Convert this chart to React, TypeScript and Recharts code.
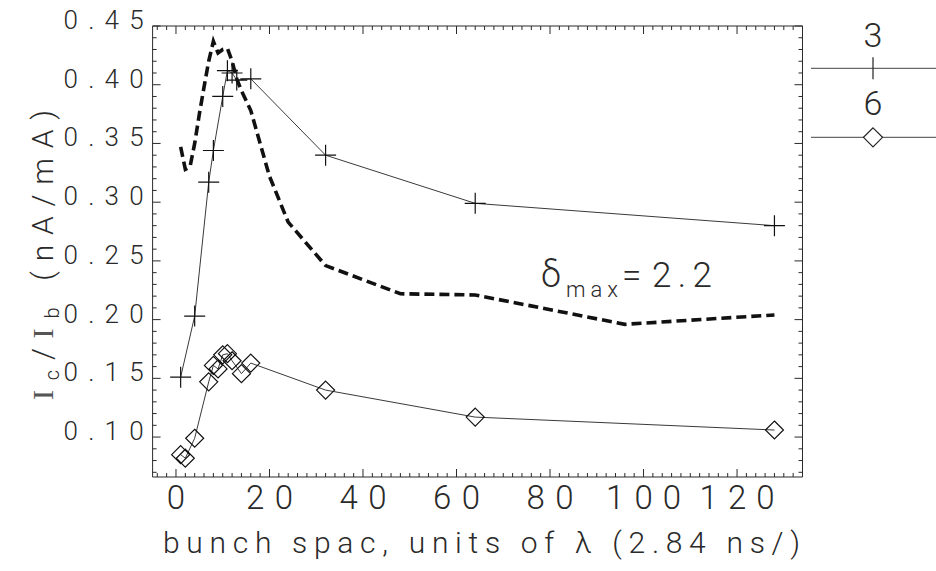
import React from 'react';
import { LineChart, Line, XAxis, YAxis, Legend, Customized } from 'recharts';

// Measured response vs. bunch spacing (units of lambda)
const spacing3 = [1, 4, 7, 8, 10, 11, 12, 13, 16, 32, 64, 128];
const ratio3 = [0.151, 0.203, 0.317, 0.344, 0.39, 0.412, 0.41, 0.404, 0.405, 0.34, 0.299, 0.28];

const spacing6 = [1, 2, 4, 7, 8, 9, 10, 11, 12, 14, 16, 32, 64, 128];
const ratio6 = [0.085, 0.082, 0.099, 0.147, 0.161, 0.158, 0.17, 0.171, 0.165, 0.154, 0.163, 0.14, 0.117, 0.106];

// Model curve for delta_max = 2.2
const spacingModel = [1, 2, 3, 4, 5, 6, 7, 8, 9, 10, 11, 12, 13, 14, 16, 20, 24, 32, 48, 64, 96, 128];
const ratioModel = [0.347, 0.328, 0.33, 0.35, 0.375, 0.398, 0.42, 0.437, 0.427, 0.43, 0.431, 0.42, 0.405, 0.395, 0.378, 0.322, 0.283, 0.246, 0.222, 0.221, 0.196, 0.204];

const seriesNames = ['3', '6'];
const xMajorTicks = [0, 20, 40, 60, 80, 100, 120];
const yMajorTicks = ['0.10', '0.15', '0.20', '0.25', '0.30', '0.35', '0.40', '0.45'];
const xTitle = 'bunch spac, units of \u03bb (2.84 ns/)';
const yTitleUnits = '(nA/mA)';
const annotationSymbol = '\u03b4';
const annotationSub = 'max';
const annotationEq = '=';
const annotationValue = '2.2';

const X_DOMAIN: [number, number] = [-5, 134];
const Y_DOMAIN: [number, number] = [0.066, 0.45];

const data3 = spacing3.map((x, i) => ({ x, y: ratio3[i] }));
const data6 = spacing6.map((x, i) => ({ x, y: ratio6[i] }));
const dataModel = spacingModel.map((x, i) => ({ x, y: ratioModel[i] }));

// minor ticks every 2 units on x, every 0.01 on y
const xTicks: number[] = [];
for (let v = -4; v <= 134; v += 2) xTicks.push(v);
const yTicks: number[] = [];
for (let i = 7; i <= 45; i++) yTicks.push(i / 100);
const yMajorValues = yMajorTicks.map(Number);
const isYMajor = (v: number) => yMajorValues.some((m) => Math.abs(m - v) < 1e-6);
const yLabel = (v: number) => yMajorTicks.find((t) => Math.abs(Number(t) - v) < 1e-6) || '';

const INK = '#2a2a2a';
const FONT = 'Roboto, "Open Sans", "DejaVu Sans", sans-serif';
const SERIF = '"Liberation Serif", "DejaVu Serif", serif';
const MAJOR = 8;
const MINOR = 4;

const BottomTick = (props: any) => {
  const { x, y, payload } = props;
  const v = payload.value;
  const major = xMajorTicks.includes(v);
  const s = String(v);
  return (
    <g>
      <line x1={x} x2={x} y1={y} y2={y - (major ? MAJOR : MINOR)} stroke={INK} strokeWidth={1} />
      {major && (
        <text
          x={x}
          y={y + 32}
          textAnchor="middle"
          fontFamily={FONT}
          fontWeight={300}
          fontSize={33}
          fill={INK}
          {...(s.length > 1 ? { textLength: 28 * (s.length - 1) + 19, lengthAdjust: 'spacing' } : {})}
        >
          {s}
        </text>
      )}
    </g>
  );
};

const TopTick = (props: any) => {
  const { x, y, payload } = props;
  const major = xMajorTicks.includes(payload.value);
  return <line x1={x} x2={x} y1={y} y2={y + (major ? MAJOR : MINOR)} stroke={INK} strokeWidth={1} />;
};

const LeftTick = (props: any) => {
  const { x, y, payload } = props;
  const major = isYMajor(payload.value);
  return (
    <g>
      <line x1={x} x2={x + (major ? MAJOR : MINOR)} y1={y} y2={y} stroke={INK} strokeWidth={1} />
      {major && (
        <text
          x={x - 9}
          y={y + 3}
          textAnchor="end"
          fontFamily={FONT}
          fontWeight={300}
          fontSize={26}
          fill={INK}
          textLength={80}
          lengthAdjust="spacing"
        >
          {yLabel(payload.value)}
        </text>
      )}
    </g>
  );
};

const RightTick = (props: any) => {
  const { x, y, payload } = props;
  const major = isYMajor(payload.value);
  return <line x1={x} x2={x - (major ? MAJOR : MINOR)} y1={y} y2={y} stroke={INK} strokeWidth={1} />;
};

const PlusDot = (props: any) => {
  const { cx, cy, index } = props;
  const a = 10.5;
  return (
    <path
      key={`plus-${index}`}
      d={`M${cx - a},${cy}H${cx + a}M${cx},${cy - a}V${cy + a}`}
      stroke="#111"
      strokeWidth={1.2}
      fill="none"
    />
  );
};

const DiamondDot = (props: any) => {
  const { cx, cy, index } = props;
  const a = 9;
  return (
    <path
      key={`dia-${index}`}
      d={`M${cx},${cy - a}L${cx + a},${cy}L${cx},${cy + a}L${cx - a},${cy}Z`}
      stroke="#111"
      strokeWidth={1.2}
      fill="none"
    />
  );
};

const markerFor: Record<string, 'plus' | 'diamond'> = { '3': 'plus', '6': 'diamond' };

const LegendBlock = (props: any) => {
  const payload = (props.payload || []).filter((e: any) => seriesNames.includes(String(e.value)));
  return (
    <svg width={125} height={135} style={{ display: 'block', overflow: 'visible' }}>
      {payload.map((entry: any, i: number) => {
        const lineY = 48.3 + i * 69;
        const baseY = 27 + i * 68;
        const cx = 62;
        const kind = markerFor[String(entry.value)];
        return (
          <g key={String(entry.value)}>
            <text x={cx} y={baseY} textAnchor="middle" fontFamily={FONT} fontWeight={300} fontSize={34} fill={INK}>
              {entry.value}
            </text>
            <line x1={0} x2={125} y1={lineY} y2={lineY} stroke="#444" strokeWidth={1} />
            {kind === 'plus' ? (
              <line x1={cx} x2={cx} y1={lineY - 11} y2={lineY + 11} stroke="#222" strokeWidth={1.2} />
            ) : (
              <path
                d={`M${cx},${lineY - 9.5}L${cx + 9.5},${lineY}L${cx},${lineY + 9.5}L${cx - 9.5},${lineY}Z`}
                stroke="#222"
                strokeWidth={1.2}
                fill="#fff"
              />
            )}
          </g>
        );
      })}
    </svg>
  );
};

const Titles = () => (
  <g fontFamily={FONT} fontWeight={300} fill={INK}>
    <text x={163} y={553} fontSize={30} textLength={637} lengthAdjust="spacing">
      {xTitle}
    </text>
    <text
      x={53}
      y={255}
      transform="rotate(-90, 53, 255)"
      textAnchor="middle"
      fontSize={30}
      textLength={290}
      lengthAdjust="spacing"
    >
      <tspan fontFamily={SERIF} fontWeight={400} fill="#555">I</tspan>
      <tspan fontSize={20} dy={6}>c</tspan>
      <tspan dy={-6}>/</tspan>
      <tspan fontFamily={SERIF} fontWeight={400} fill="#555">I</tspan>
      <tspan fontSize={20} dy={6}>b</tspan>
      <tspan dy={-6}>{'  ' + yTitleUnits}</tspan>
    </text>
    <text y={287}>
      <tspan x={541} fontSize={36}>{annotationSymbol}</tspan>
      <tspan x={566} y={297} fontSize={22} textLength={52} lengthAdjust="spacing">
        {annotationSub}
      </tspan>
      <tspan x={622} y={287} fontSize={35}>
        {annotationEq}
      </tspan>
      <tspan x={652} y={287} fontSize={35} textLength={60} lengthAdjust="spacing">
        {annotationValue}
      </tspan>
    </text>
  </g>
);

export default function App() {
  return (
    <div style={{ position: 'absolute', left: 0, top: 0, width: 936, height: 571, background: '#fff' }}>
      <LineChart width={936} height={571} margin={{ top: 25, right: 132.5, bottom: 93, left: 151.6 }}>
        <XAxis
          xAxisId={0}
          type="number"
          dataKey="x"
          domain={X_DOMAIN}
          allowDataOverflow
          ticks={xTicks}
          interval={0}
          height={1}
          tickSize={0}
          tickMargin={0}
          tickLine={false}
          tick={<BottomTick />}
          axisLine={{ stroke: INK, strokeWidth: 1 }}
        />
        <XAxis
          xAxisId="top"
          orientation="top"
          type="number"
          dataKey="x"
          domain={X_DOMAIN}
          allowDataOverflow
          ticks={xTicks}
          interval={0}
          height={1}
          tickSize={0}
          tickMargin={0}
          tickLine={false}
          tick={<TopTick />}
          axisLine={{ stroke: INK, strokeWidth: 1 }}
        />
        <YAxis
          yAxisId={0}
          type="number"
          domain={Y_DOMAIN}
          allowDataOverflow
          ticks={yTicks}
          interval={0}
          width={1}
          tickSize={0}
          tickMargin={0}
          tickLine={false}
          tick={<LeftTick />}
          axisLine={{ stroke: INK, strokeWidth: 1 }}
        />
        <YAxis
          yAxisId="right"
          orientation="right"
          type="number"
          domain={Y_DOMAIN}
          allowDataOverflow
          ticks={yTicks}
          interval={0}
          width={1}
          tickSize={0}
          tickMargin={0}
          tickLine={false}
          tick={<RightTick />}
          axisLine={{ stroke: INK, strokeWidth: 1 }}
        />
        <Line
          data={dataModel}
          dataKey="y"
          type="linear"
          stroke="#111"
          strokeWidth={3.6}
          strokeDasharray="10 5"
          dot={false}
          legendType="none"
          isAnimationActive={false}
        />
        <Line
          data={data3}
          dataKey="y"
          name={seriesNames[0]}
          type="linear"
          stroke="#3a3a3a"
          strokeWidth={1}
          dot={PlusDot}
          isAnimationActive={false}
        />
        <Line
          data={data6}
          dataKey="y"
          name={seriesNames[1]}
          type="linear"
          stroke="#3a3a3a"
          strokeWidth={1}
          dot={DiamondDot}
          isAnimationActive={false}
        />
        <Legend
          layout="horizontal"
          verticalAlign="middle"
          align="center"
          content={LegendBlock}
          wrapperStyle={{ left: 811, top: 20, width: 125, height: 135 }}
        />
        <Customized component={Titles} />
      </LineChart>
    </div>
  );
}
